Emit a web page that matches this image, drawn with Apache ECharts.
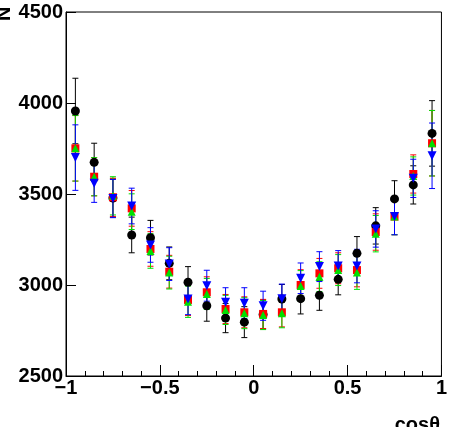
<!DOCTYPE html>
<html>
<head>
<meta charset="utf-8">
<script src="https://cdn.jsdelivr.net/npm/echarts@6/dist/echarts.min.js"></script>
<style>
  html, body { margin: 0; padding: 0; background: #fff; }
  #chart { width: 450px; height: 427px; }
</style>
</head>
<body>
<div id="chart"></div>
<script>
// bin centres in cos(theta)
var binCenters = [-0.95, -0.85, -0.75, -0.65, -0.55, -0.45, -0.35, -0.25, -0.15, -0.05,
                  0.05, 0.15, 0.25, 0.35, 0.45, 0.55, 0.65, 0.75, 0.85, 0.95];
// counts
var blackVals = [3956, 3674, 3478, 3275, 3260, 3119, 3015, 2886, 2818, 2796,
                 2838, 2923, 2925, 2943, 3031, 3174, 3325, 3473, 3550, 3833];
var redVals   = [3751, 3595, 3482, 3421, 3198, 3073, 2918, 2960, 2868, 2850,
                 2841, 2850, 3000, 3064, 3092, 3082, 3291, 3376, 3610, 3779];
var greenVals = [3751, 3595, 3490, 3403, 3187, 3068, 2908, 2951, 2863, 2845,
                 2835, 2845, 2995, 3046, 3082, 3068, 3282, 3376, 3599, 3779];
var blueVals  = [3700, 3559, 3475, 3434, 3220, 3115, 2923, 2996, 2905, 2900,
                 2886, 2925, 3037, 3101, 3104, 3104, 3308, 3376, 3586, 3710];
// error bar half-heights per bin
var errs = [180, 105, 105, 98, 95, 90, 86, 85, 80, 85,
            80, 80, 84, 82, 85, 92, 100, 100, 105, 180];
var xTicks = [-1, -0.5, 0, 0.5, 1];
var yTicks = [2500, 3000, 3500, 4000, 4500];

function pts(vals) {
  return vals.map(function (v, i) { return [binCenters[i], v, errs[i]]; });
}

function errBar(params, api) {
  var x = api.value(0), y = api.value(1), e = api.value(2);
  var top = api.coord([x, y + e]);
  var bot = api.coord([x, y - e]);
  var c = api.visual('color');
  var st = { stroke: c, lineWidth: 1 };
  return {
    type: 'group',
    children: [
      { type: 'line', shape: { x1: top[0], y1: top[1], x2: bot[0], y2: bot[1] }, style: st },
      { type: 'line', shape: { x1: top[0] - 3, y1: top[1], x2: top[0] + 3, y2: top[1] }, style: st },
      { type: 'line', shape: { x1: bot[0] - 3, y1: bot[1], x2: bot[0] + 3, y2: bot[1] }, style: st }
    ]
  };
}

var sets = [
  { vals: blackVals, color: '#000000', symbol: 'circle', size: 9, rot: 0 },
  { vals: redVals, color: '#ff0000', symbol: 'rect', size: 8, rot: 0 },
  { vals: greenVals, color: '#00e000', symbol: 'triangle', size: 8, rot: 0 },
  { vals: blueVals, color: '#0000ff', symbol: 'triangle', size: 9, rot: 180 }
];

var series = [];
sets.forEach(function (s, k) {
  series.push({
    type: 'custom',
    renderItem: errBar,
    data: pts(s.vals),
    itemStyle: { color: s.color },
    encode: { x: 0, y: 1 },
    z: 2 + k * 2,
    silent: true
  });
});
sets.forEach(function (s, k) {
  series.push({
    type: 'scatter',
    data: pts(s.vals),
    symbol: s.symbol,
    symbolSize: s.size,
    symbolRotate: s.rot,
    itemStyle: { color: s.color, opacity: 1 },
    z: 10 + k,
    silent: true
  });
});

var lblFont = { color: '#000', fontFamily: 'Liberation Sans, Arial, sans-serif', fontWeight: 'bold', fontSize: 20 };

var myChart = echarts.init(document.getElementById('chart'));
myChart.setOption({
  animation: false,
  grid: { left: 66, right: 6, top: 12, bottom: 51, show: true, borderColor: '#000', borderWidth: 1, backgroundColor: 'transparent' },
  xAxis: {
    type: 'value', min: xTicks[0], max: xTicks[xTicks.length - 1], interval: 0.5,
    axisLine: { show: true, onZero: false, lineStyle: { color: '#000', width: 1 } },
    axisTick: { show: true, inside: true, length: 11, lineStyle: { color: '#000' } },
    minorTick: { show: true, splitNumber: 5, length: 5, lineStyle: { color: '#000' } },
    splitLine: { show: false },
    axisLabel: Object.assign({
      margin: 2,
      formatter: function (v) { return String(v).replace('-', '\u2212'); }
    }, lblFont)
  },
  yAxis: {
    type: 'value', min: yTicks[0], max: yTicks[yTicks.length - 1], interval: 500,
    axisLine: { show: true, onZero: false, lineStyle: { color: '#000', width: 1 } },
    axisTick: { show: true, inside: true, length: 10, lineStyle: { color: '#000' } },
    splitLine: { show: false },
    axisLabel: Object.assign({ margin: 3, formatter: function (v) { return String(v); } }, lblFont)
  },
  graphic: [
    { type: 'text', x: -6, y: 21, rotation: Math.PI / 2,
      style: { text: 'N', fill: '#000', font: 'bold 20px Liberation Sans, Arial, sans-serif', textAlign: 'left', textVerticalAlign: 'top' } },
    { type: 'text', right: 10, top: 415,
      style: { text: 'cos\u03b8', fill: '#000', font: 'bold 20px Liberation Sans, Arial, sans-serif' } }
  ],
  series: series
});
</script>
</body>
</html>
